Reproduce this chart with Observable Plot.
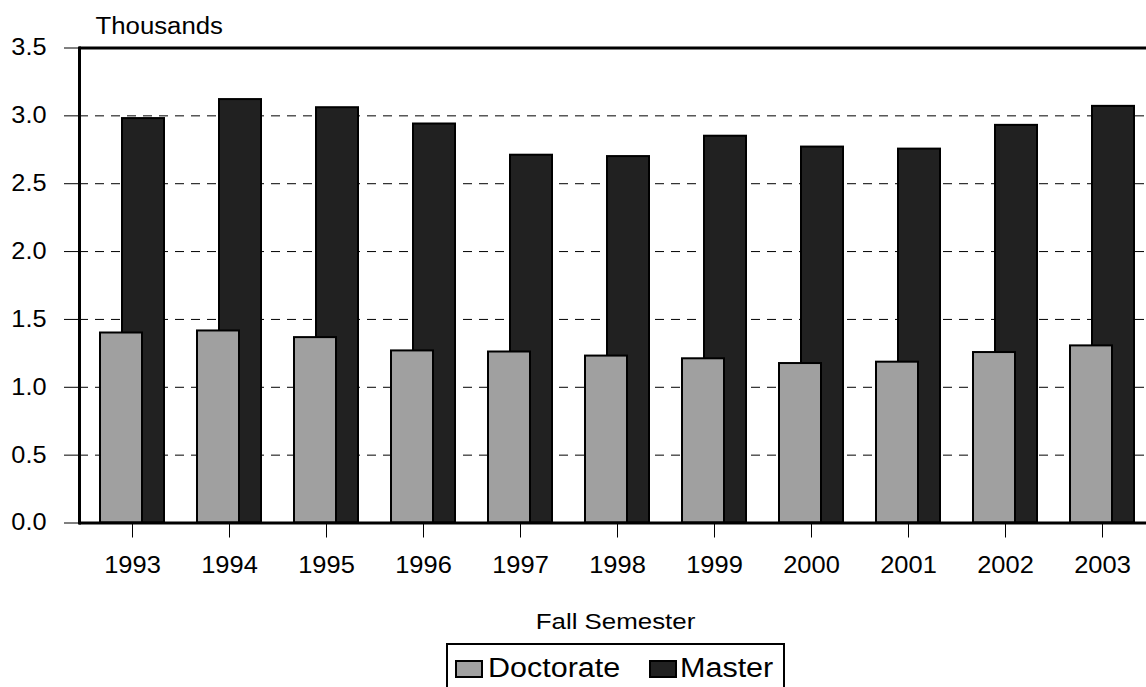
<!DOCTYPE html>
<html><head><meta charset="utf-8">
<script src="https://cdn.jsdelivr.net/npm/d3@7"></script>
<script src="https://cdn.jsdelivr.net/npm/@observablehq/plot@0.6"></script>
<style>
html,body{margin:0;padding:0;background:#fff;overflow:hidden;width:1146px;height:687px;}
#wrap{position:relative;width:1146px;height:687px;overflow:hidden;}
</style></head><body><div id="wrap"></div>
<script>
const years = ["1993","1994","1995","1996","1997","1998","1999","2000","2001","2002","2003"];
const doctorate = [1.40, 1.415, 1.366, 1.268, 1.26, 1.23, 1.21, 1.175, 1.185, 1.256, 1.305];
const master = [2.98, 3.12, 3.06, 2.94, 2.71, 2.70, 2.85, 2.77, 2.755, 2.93, 3.07];
const seriesNames = ["Doctorate", "Master"];
const seriesColors = ["#a0a0a0", "#212121"];
const yTicks = [0, 0.5, 1, 1.5, 2, 2.5, 3, 3.5];
const gridTicks = [0.5, 1, 1.5, 2, 2.5, 3];
const yUnitLabel = "Thousands";
const xTitle = "Fall Semester";

const rows = years.flatMap((y, i) => [
  {year: y, series: seriesNames[0], value: doctorate[i]},
  {year: y, series: seriesNames[1], value: master[i]}
]);

const FONT = '"Liberation Sans", Arial, Helvetica, sans-serif';

const chart = Plot.plot({
  width: 1146, height: 640,
  marginLeft: 79, marginRight: 0, marginTop: 47.5, marginBottom: 117.5,
  style: {fontFamily: FONT, background: "#fff", color: "#000"},
  x: {domain: years, range: [79, 1155], paddingInner: 0.5706, paddingOuter: 0.286, label: null},
  y: {domain: [0, 3.5], label: null},
  marks: [
    Plot.ruleY(gridTicks, {stroke: "#000", strokeWidth: 1, strokeDasharray: "9,7"}),
    Plot.barY(rows.filter(d => d.series === seriesNames[1]), {x: "year", y: "value", fill: seriesColors[1], stroke: "#000", strokeWidth: 2, dx: 11}),
    Plot.barY(rows.filter(d => d.series === seriesNames[0]), {x: "year", y: "value", fill: seriesColors[0], stroke: "#000", strokeWidth: 2, dx: -11}),
    Plot.ruleY([0, 3.5], {stroke: "#000", strokeWidth: 3}),
    Plot.frame({anchor: "left", stroke: "#000", strokeWidth: 3}),
    Plot.axisY({ticks: yTicks, tickFormat: d3.format(".1f"), tickSize: 15, tickPadding: 18, fontSize: 23, label: null}),
    Plot.axisX({tickSize: 15, tickPadding: 18, fontSize: 24, label: null}),
    Plot.text([yUnitLabel], {text: d => d, frameAnchor: "top-left", dx: 16, dy: -14.5, lineAnchor: "bottom", textAnchor: "start", fontSize: 23, fill: "#000"}),
    Plot.text([xTitle], {text: d => d, frameAnchor: "bottom", dx: 2.5, dy: 105.5, lineAnchor: "bottom", textAnchor: "middle", fontSize: 22.5, fill: "#000"})
  ]
});

const wrap = document.getElementById("wrap");
wrap.appendChild(chart);

function stretchEl(t, k) {
  const w = t.getComputedTextLength();
  if (w > 0) {
    t.setAttribute("textLength", w * k);
    t.setAttribute("lengthAdjust", "spacingAndGlyphs");
  }
}
const yTickText = new Set(yTicks.map(d3.format(".1f")));
const xTickText = new Set(years);
chart.querySelectorAll("text").forEach(t => {
  const s = t.textContent.trim();
  if (s === yUnitLabel) stretchEl(t, 1.12);
  else if (s === xTitle) stretchEl(t, 1.15);
  else if (yTickText.has(s)) stretchEl(t, 1.1);
  else if (xTickText.has(s)) stretchEl(t, 1.06);
});

// Legend below the plot SVG
const legend = d3.create("svg")
  .attr("width", 1146).attr("height", 47)
  .style("position", "absolute").style("left", "0px").style("top", "640px")
  .style("font-family", FONT);
legend.append("rect")
  .attr("x", 447).attr("y", 4).attr("width", 337).attr("height", 60)
  .attr("fill", "#fff").attr("stroke", "#000").attr("stroke-width", 2);
const itemX = [456, 650];
const textX = [488, 680];
seriesNames.forEach((name, i) => {
  legend.append("rect")
    .attr("x", itemX[i]).attr("y", 21).attr("width", 26).attr("height", 16)
    .attr("fill", seriesColors[i]).attr("stroke", "#000").attr("stroke-width", 2);
  legend.append("text")
    .attr("x", textX[i]).attr("y", 37)
    .attr("font-size", 27).attr("fill", "#000")
    .text(name);
});
wrap.appendChild(legend.node());
legend.selectAll("text").each(function() { stretchEl(this, 1.13); });
</script></body></html>
